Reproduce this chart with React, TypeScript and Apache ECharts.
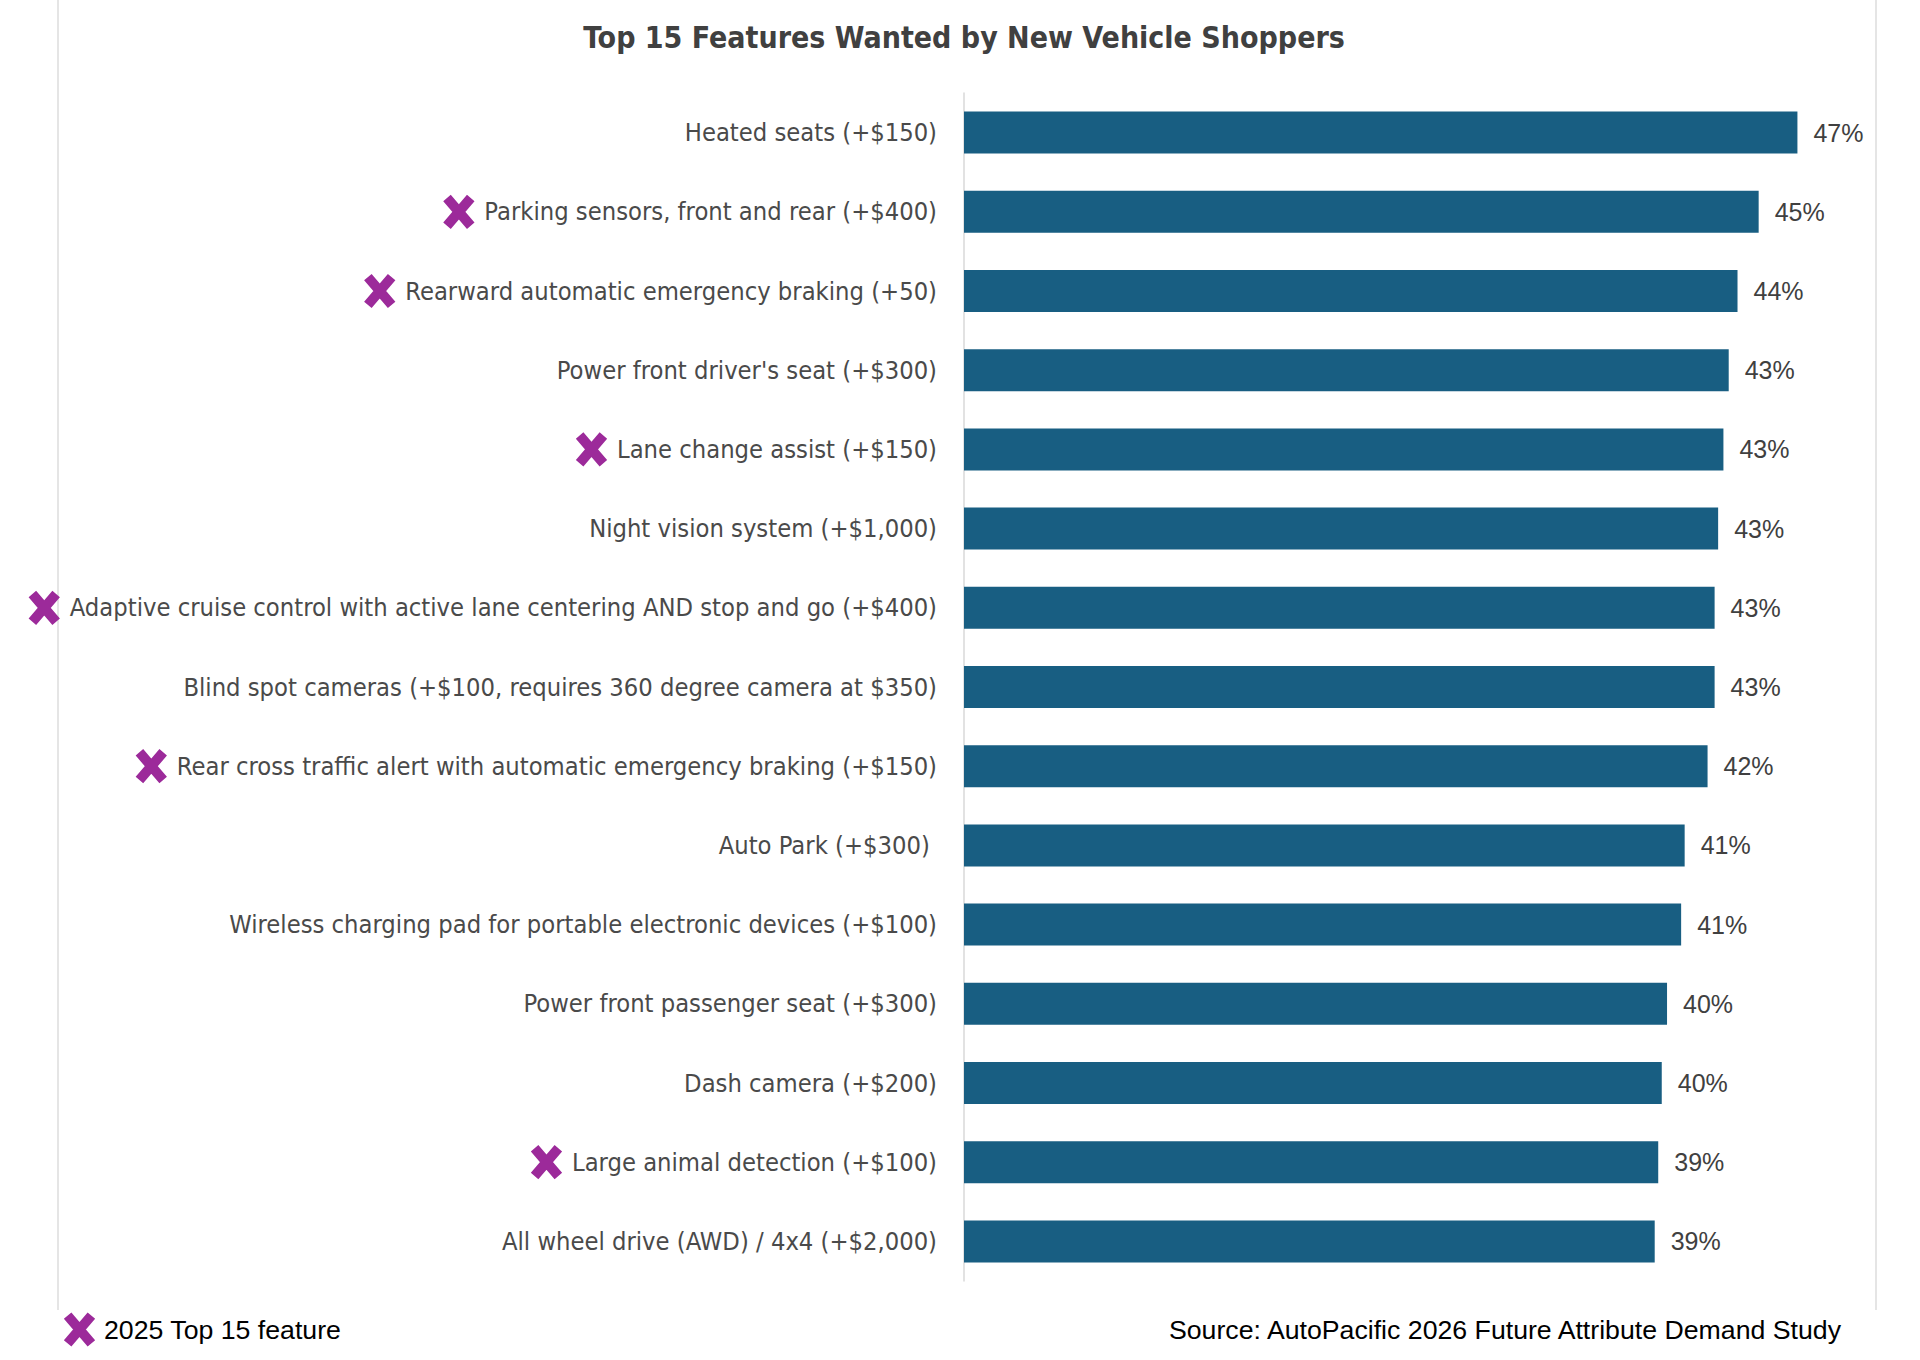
import React, { useEffect, useRef } from "react";
import * as echarts from "echarts";

const TITLE = "Top 15 Features Wanted by New Vehicle Shoppers";
const LEGEND_TEXT = "2025 Top 15 feature";
const SOURCE_TEXT = "Source: AutoPacific 2026 Future Attribute Demand Study";

const categories = [
  "Heated seats (+$150)",
  "Parking sensors, front and rear (+$400)",
  "Rearward automatic emergency braking (+50)",
  "Power front driver's seat (+$300)",
  "Lane change assist (+$150)",
  "Night vision system (+$1,000)",
  "Adaptive cruise control with active lane centering AND stop and go (+$400)",
  "Blind spot cameras (+$100, requires 360 degree camera at $350)",
  "Rear cross traffic alert with automatic emergency braking (+$150)",
  "Auto Park (+$300) ",
  "Wireless charging pad for portable electronic devices (+$100)",
  "Power front passenger seat (+$300)",
  "Dash camera (+$200)",
  "Large animal detection (+$100)",
  "All wheel drive (AWD) / 4x4 (+$2,000)",
];

const shares = [47.3, 45.1, 43.9, 43.4, 43.1, 42.8, 42.6, 42.6, 42.2, 40.9, 40.7, 39.9, 39.6, 39.4, 39.2];

const top2025 = [false, true, true, false, true, false, true, false, true, false, false, false, false, true, false];

const PURPLE = "#9c2a9a";
const xSvg =
  "<svg xmlns='http://www.w3.org/2000/svg' viewBox='0 0 100 100'>" +
  "<path d='M14 8 L86 92 M86 8 L14 92' stroke='" + PURPLE + "' stroke-width='30' fill='none'/></svg>";
const X_URL = "data:image/svg+xml;utf8," + encodeURIComponent(xSvg);

const NARROW = "'Liberation Sans Narrow', 'DejaVu Sans Condensed', 'Roboto', sans-serif";
const SANS = "'Liberation Sans', Arial, sans-serif";

export default function App() {
  const ref = useRef<HTMLDivElement>(null);
  useEffect(() => {
    if (!ref.current) return;
    const chart = echarts.init(ref.current, null, { renderer: "svg" });
    const marked = new Set(categories.filter((_, i) => top2025[i]));
    chart.setOption({
      animation: false,
      backgroundColor: "#ffffff",
      grid: {
        left: 964,
        top: 93,
        bottom: 79,
        right: 75,
        containLabel: false,
        outerBoundsMode: "none",
      },
      xAxis: {
        type: "value",
        min: 0,
        max: 50,
        show: false,
        splitLine: { show: false },
      },
      yAxis: {
        type: "category",
        data: categories,
        inverse: true,
        axisTick: { show: false },
        axisLine: { show: true, lineStyle: { color: "#d9d9d9", width: 1.5 } },
        axisLabel: {
          margin: 27,
          align: "right",
          formatter: (v: string) => (marked.has(v) ? `{x| }{t|${v}}` : `{t|${v}}`),
          rich: {
            x: {
              width: 33,
              height: 35,
              backgroundColor: { image: X_URL },
            },
            t: {
              fontFamily: NARROW,
              fontSize: 25.3,
              color: "#4a4a4a",
              padding: [0, 0, 0, 9],
            },
          },
        },
      },
      series: [
        {
          type: "bar",
          data: shares,
          barWidth: 42,
          itemStyle: { color: "#185e82" },
          label: {
            show: true,
            position: "right",
            distance: 16,
            formatter: (p: any) => Math.round(p.value) + "%",
            fontFamily: SANS,
            fontSize: 25,
            color: "#404040",
          },
        },
      ],
      graphic: [
        {
          type: "line",
          shape: { x1: 58, y1: 0, x2: 58, y2: 1310 },
          style: { stroke: "#dcdcdc", lineWidth: 1.5 },
        },
        {
          type: "line",
          shape: { x1: 1876, y1: 0, x2: 1876, y2: 1310 },
          style: { stroke: "#dcdcdc", lineWidth: 1.5 },
        },
        {
          type: "text",
          x: 964,
          y: 37,
          style: {
            text: TITLE,
            align: "center",
            verticalAlign: "middle",
            fontFamily: NARROW,
            fontWeight: "bold",
            fontSize: 30,
            fill: "#404040",
          },
        },
        {
          type: "image",
          x: 63,
          y: 1312,
          style: { image: X_URL, width: 33, height: 35 },
        },
        {
          type: "text",
          x: 104,
          y: 1330,
          style: {
            text: LEGEND_TEXT,
            align: "left",
            verticalAlign: "middle",
            fontFamily: SANS,
            fontSize: 26.7,
            fill: "#000000",
          },
        },
        {
          type: "text",
          x: 1841,
          y: 1330,
          style: {
            text: SOURCE_TEXT,
            align: "right",
            verticalAlign: "middle",
            fontFamily: SANS,
            fontSize: 26.7,
            fill: "#000000",
          },
        },
      ],
    });
    return () => chart.dispose();
  }, []);
  return (
    <div
      ref={ref}
      style={{ position: "fixed", left: 0, top: 0, width: 1920, height: 1360 }}
    />
  );
}
